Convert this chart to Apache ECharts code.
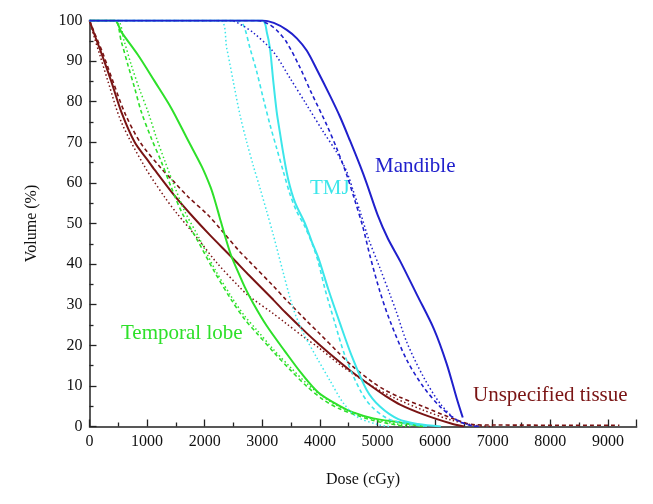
<!DOCTYPE html>
<html>
<head>
<meta charset="utf-8">
<script src="https://cdn.jsdelivr.net/npm/echarts@6/dist/echarts.min.js"></script>
<style>html,body{margin:0;padding:0;background:#fff}#c{width:653px;height:504px}</style>
</head>
<body>
<div id="c"></div>
<script>
// Dose (cGy), Volume (%) pairs
const unspecifiedSolid = [[0,100],[100,96],[205,92],[378,85],[552,77.5],[785,70],[1000,65.8],[1132,63.2],[1479,56.8],[1767,52.1],[2100,47],[2462,41.8],[2752,37.5],[3191,31.2],[3394,28.2],[3771,23],[3972,20.4],[4349,15.8],[4552,13.5],[4927,9.6],[5130,7.6],[5391,5.4],[5795,3],[6264,0.8],[6500,0]];
const unspecifiedDashed = [[0,100],[100,96.5],[230,92],[420,84.5],[620,77],[880,70],[1250,63.5],[1484,60],[1710,56.6],[2057,52.1],[2288,48.4],[2613,43],[2752,41],[3191,34.6],[3394,31.5],[3771,26],[3972,23.2],[4349,17.8],[4552,15],[4927,10.8],[5130,9],[5391,7.2],[5795,4.9],[6375,1.6],[6700,0.4],[9200,0.3]];
const unspecifiedDotted = [[0,100],[80,96],[180,91.5],[321,85],[552,75],[958,64],[1305,56.5],[1500,52.8],[1884,46.2],[2200,40.5],[2613,34.2],[2752,32.3],[3191,27.8],[3394,25.6],[3771,21.5],[3972,19.5],[4349,15.2],[4552,13.2],[4927,9.8],[5300,7],[5800,4],[6300,1.5],[6700,0.3],[7000,0]];

const temporalSolid = [[0,100],[437,100],[552,97.2],[842,91.5],[1132,85],[1420,78.4],[1710,70.5],[1950,64],[2100,59],[2174,55.8],[2260,51.5],[2347,47.2],[2462,42],[2613,37],[2694,34.4],[2844,30.3],[3076,24.8],[3394,18.5],[3684,13],[3972,8.4],[4349,5],[4552,3.6],[4927,2],[5391,1],[5800,0]];
const temporalDashed = [[0,100],[437,100],[552,94.8],[668,89],[785,83.3],[899,77.5],[1073,71],[1247,65.2],[1420,58.9],[1594,53],[1884,45.6],[2174,38],[2462,31.2],[2694,26.4],[2903,23],[3191,18.4],[3481,14],[3771,9.9],[4059,6.6],[4349,4.3],[4927,1.5],[5500,0]];
const temporalDotted = [[0,100],[480,100],[600,95],[726,89],[870,83],[1016,77.5],[1160,71.2],[1305,65.5],[1480,59],[1653,53],[1900,46.5],[2174,38.8],[2462,32],[2694,27.2],[2903,23.8],[3191,19],[3481,14.7],[3771,10.6],[4059,7.3],[4349,4.8],[4927,1.8],[5600,0]];

const tmjSolid = [[0,100],[3000,100],[3080,97],[3134,93],[3191,85],[3250,77.5],[3307,72.3],[3365,67.2],[3451,60.8],[3568,55.2],[3741,50],[3860,45.5],[3972,41.6],[4146,33.8],[4349,25.4],[4552,17.4],[4812,9],[5043,4.9],[5361,1.8],[5700,0.6],[6100,0]];
const tmjDashed = [[0,100],[2550,100],[2670,98.9],[2786,93.2],[2903,87.4],[3017,80.8],[3134,74.3],[3250,68.5],[3365,62.8],[3481,57.2],[3597,53],[3741,49.2],[3880,44.5],[3972,40.5],[4089,33.8],[4262,25.4],[4436,17.4],[4696,9],[4899,4.9],[5200,1.8],[5600,0.5],[5900,0]];
const tmjDotted = [[0,100],[2266,100],[2382,93.2],[2497,84.9],[2613,76.7],[2729,70.1],[2844,64.2],[2960,58.7],[3076,53],[3191,47.2],[3365,37.8],[3538,29],[3712,23],[3944,17],[4175,11.3],[4406,5.8],[4639,2.4],[5000,0.5],[5200,0]];

const mandibleSolid = [[0,100],[3000,100],[3200,99.4],[3424,97.7],[3600,95.6],[3771,92.6],[3944,88],[4175,81.5],[4349,76.3],[4523,70.4],[4696,64.3],[4812,59.9],[5000,52.2],[5180,46.3],[5391,40.8],[5690,32.3],[5980,24],[6200,15.5],[6380,6.7],[6480,2.2]];
const mandibleDashed = [[0,100],[2900,100],[3100,99.2],[3250,97.6],[3424,94.6],[3655,88.4],[3845,82.4],[4118,74.3],[4292,68.5],[4465,62],[4600,56],[4745,49.2],[4870,42],[5043,33.2],[5217,26],[5507,16.4],[5795,9.8],[6085,4.9],[6375,1.6],[6600,0.3],[6800,0]];
const mandibleDotted = [[0,100],[2450,100],[2650,98.8],[2844,97],[3191,92.3],[3481,85.8],[3771,79.2],[4059,72.6],[4292,67.5],[4465,62.8],[4580,58],[4696,53],[4850,46],[5043,39],[5217,32.5],[5333,28],[5507,20.8],[5795,12.3],[6085,5.7],[6375,1.6],[6700,0]];

const xTicks = {min: 0, max: 9500, interval: 1000};
const yTicks = {min: 0, max: 100, interval: 10};

const C = {
  unspecified: '#7a1414',
  temporal: '#2ee02a',
  tmj: '#3ce6ea',
  mandible: '#2020cc'
};
const SERIF = '"Liberation Serif","DejaVu Serif",serif';

function mk(name, data, color, style) {
  let ls = {color: color, width: 2, type: 'solid'};
  if (style === 'dashed') ls = {color: color, width: 1.6, type: [4, 3]};
  if (style === 'dotted') ls = {color: color, width: 1.5, type: [1.5, 2.5]};
  return {
    name: name, type: 'line', data: data, showSymbol: false, symbol: 'none',
    smooth: 0.3, lineStyle: ls, silent: true, animation: false
  };
}

const chart = echarts.init(document.getElementById('c'), null, {renderer: 'canvas'});
const axisCommon = {
  axisLine: {lineStyle: {color: '#222', width: 1.5}},
  axisTick: {inside: true, length: 7, lineStyle: {color: '#222', width: 1.3}},
  minorTick: {show: true, splitNumber: 2, length: 4, lineStyle: {color: '#222', width: 1.3}},
  splitLine: {show: false},
  axisLabel: {color: '#111', fontFamily: SERIF, fontSize: 16, formatter: v => String(v)},
  nameTextStyle: {color: '#111', fontFamily: SERIF, fontSize: 16}
};
chart.setOption({
  animation: false,
  grid: {left: 89.5, right: 16.3, top: 20.5, bottom: 77.5},
  xAxis: Object.assign({}, axisCommon, {
    type: 'value', min: xTicks.min, max: xTicks.max, interval: xTicks.interval,
    name: 'Dose (cGy)', nameLocation: 'middle', nameGap: 45,
    axisLabel: Object.assign({}, axisCommon.axisLabel, {margin: 7, showMaxLabel: false})
  }),
  yAxis: Object.assign({}, axisCommon, {
    type: 'value', min: yTicks.min, max: yTicks.max, interval: yTicks.interval,
    name: 'Volume (%)', nameLocation: 'middle', nameGap: 50, nameRotate: 90,
    axisLabel: Object.assign({}, axisCommon.axisLabel, {margin: 7})
  }),
  series: [
    mk('Unspecified tissue dotted', unspecifiedDotted, C.unspecified, 'dotted'),
    mk('Unspecified tissue dashed', unspecifiedDashed, C.unspecified, 'dashed'),
    mk('Unspecified tissue', unspecifiedSolid, C.unspecified, 'solid'),
    mk('Temporal lobe dotted', temporalDotted, C.temporal, 'dotted'),
    mk('Temporal lobe dashed', temporalDashed, C.temporal, 'dashed'),
    mk('Temporal lobe', temporalSolid, C.temporal, 'solid'),
    mk('TMJ dotted', tmjDotted, C.tmj, 'dotted'),
    mk('TMJ dashed', tmjDashed, C.tmj, 'dashed'),
    mk('TMJ', tmjSolid, C.tmj, 'solid'),
    mk('Mandible dotted', mandibleDotted, C.mandible, 'dotted'),
    mk('Mandible dashed', mandibleDashed, C.mandible, 'dashed'),
    mk('Mandible', mandibleSolid, C.mandible, 'solid')
  ],
  graphic: [
    {type: 'text', left: 375, top: 156, style: {text: 'Mandible', fill: C.mandible, font: '21px ' + SERIF}},
    {type: 'text', left: 310, top: 178, style: {text: 'TMJ', fill: C.tmj, font: '21px ' + SERIF}},
    {type: 'text', left: 121, top: 323, style: {text: 'Temporal lobe', fill: C.temporal, font: '21px ' + SERIF}},
    {type: 'text', left: 473, top: 385, style: {text: 'Unspecified tissue', fill: C.unspecified, font: '21px ' + SERIF}}
  ]
});
</script>
</body>
</html>
